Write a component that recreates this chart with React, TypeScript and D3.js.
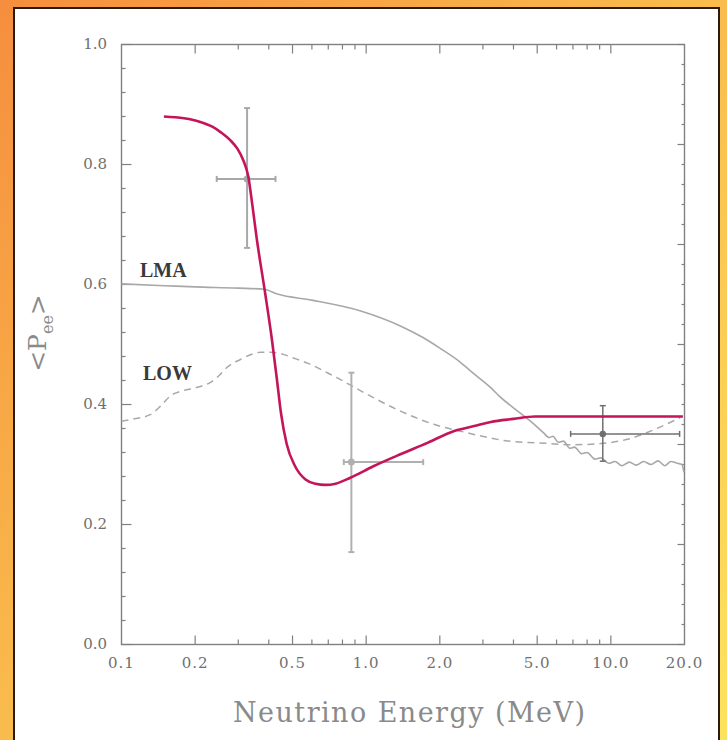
import React from "react";
import * as d3 from "d3";

const W = 727;
const H = 740;

const xTickValues = [0.1, 0.2, 0.5, 1, 2, 5, 10, 20];
const xTickLabels = ["0.1", "0.2", "0.5", "1.0", "2.0", "5.0", "10.0", "20.0"];
const xMinorTicks = [0.3, 0.4, 0.6, 0.7, 0.8, 0.9, 3, 4, 6, 7, 8, 9];
const yTickValues = [0, 0.2, 0.4, 0.6, 0.8, 1.0];
const yTickLabels = ["0.0", "0.2", "0.4", "0.6", "0.8", "1.0"];

// Magenta curve (best fit)
const fitE = [0.149, 0.18, 0.21, 0.235, 0.254, 0.2776, 0.298, 0.3146, 0.3297, 0.343, 0.3568, 0.3858, 0.4121, 0.432, 0.4485, 0.4733, 0.5117, 0.565, 0.621, 0.68, 0.75, 0.862, 1.07, 1.38, 1.78, 2.29, 2.76, 3.23, 4.0, 4.9, 10, 19.7];
const fitP = [0.880, 0.877, 0.871, 0.863, 0.854, 0.841, 0.826, 0.807, 0.780, 0.731, 0.6775, 0.5875, 0.5075, 0.4408, 0.3858, 0.3342, 0.2975, 0.275, 0.268, 0.266, 0.268, 0.278, 0.297, 0.317, 0.336, 0.356, 0.364, 0.371, 0.376, 0.380, 0.380, 0.380];

// LMA (solid gray)
const lmaE = [0.1, 0.15, 0.2, 0.3, 0.383, 0.433, 0.6, 0.95, 1.38, 1.7, 2.0, 2.4, 2.76, 3.23, 3.5, 4.25, 4.8, 5.3, 5.6, 5.8, 6.1, 6.4, 6.8, 7.1, 7.6, 8.0, 8.6, 9.1, 9.8, 10.4, 11.1, 11.9, 12.7, 13.6, 14.6, 15.6, 16.6, 17.6, 18.7, 19.5, 19.9];
const lmaP = [0.601, 0.598, 0.596, 0.594, 0.592, 0.584, 0.574, 0.556, 0.531, 0.512, 0.494, 0.472, 0.451, 0.428, 0.414, 0.386, 0.369, 0.353, 0.345, 0.347, 0.337, 0.339, 0.327, 0.329, 0.318, 0.320, 0.309, 0.311, 0.302, 0.305, 0.298, 0.304, 0.299, 0.305, 0.300, 0.306, 0.298, 0.305, 0.302, 0.300, 0.287];

// LOW (dashed gray)
const lowE = [0.1, 0.109, 0.131, 0.145, 0.159, 0.175, 0.191, 0.21, 0.231, 0.25, 0.27, 0.306, 0.337, 0.37, 0.41, 0.447, 0.5, 0.575, 0.74, 1.01, 1.38, 1.89, 2.58, 3.23, 3.8, 5.1, 7.0, 9.1, 11.7, 15, 19.2];
const lowP = [0.372, 0.375, 0.383, 0.398, 0.415, 0.422, 0.426, 0.430, 0.437, 0.448, 0.462, 0.475, 0.483, 0.487, 0.487, 0.485, 0.478, 0.469, 0.447, 0.417, 0.389, 0.367, 0.353, 0.344, 0.339, 0.336, 0.333, 0.335, 0.342, 0.358, 0.378];

// Data points with error bars
const ptE = [0.326, 0.87, 9.27];
const ptP = [0.776, 0.304, 0.351];
const ptELo = [0.245, 0.81, 6.85];
const ptEHi = [0.426, 1.71, 19.1];
const ptPLo = [0.661, 0.154, 0.3055];
const ptPHi = [0.894, 0.453, 0.398];

const x = d3.scaleLog().domain([0.1, 20]).range([121.5, 684.5]);
const y = d3.scaleLinear().domain([0, 1]).range([644.5, 44.5]);
const yRight = d3.scaleLinear().domain([0, 30]).range([644.5, 44.5]);

const line = d3
  .line<[number, number]>()
  .x((d) => x(d[0]))
  .y((d) => y(d[1]))
  .curve(d3.curveMonotoneX);

const zip = (a: number[], b: number[]) => a.map((v, i) => [v, b[i]] as [number, number]);

export default function App() {
  const left = x.range()[0];
  const right = x.range()[1];
  const top = y.range()[1];
  const bottom = y.range()[0];
  const axisColor = "#808080";
  const yMinor = d3.range(0, 26).map((i) => i * 0.04);
  const rightTicks = d3.range(0, 31);
  const barColors = ["#a8a8a8", "#b0b0b0", "#707070"];
  const serif = "'DejaVu Serif', serif";

  return (
    <svg
      width={W}
      height={H}
      style={{ position: "absolute", left: 0, top: 0, display: "block" }}
    >
      <defs>
        <linearGradient id="bg" x1="0" y1="0" x2="1" y2="1">
          <stop offset="0" stopColor="#f58e3e" />
          <stop offset="0.45" stopColor="#f9b84b" />
          <stop offset="1" stopColor="#fde35c" />
        </linearGradient>
      </defs>
      <rect x={0} y={0} width={W} height={H} fill="url(#bg)" />
      <rect x={14} y={8} width={705} height={H} fill="#ffffff" stroke="#2a1a10" strokeWidth={2} />

      {/* frame */}
      <rect x={left} y={top} width={right - left} height={bottom - top} fill="none" stroke={axisColor} strokeWidth={1.4} />

      {/* x ticks bottom & top */}
      {xTickValues.slice(1, -1).map((v) => (
        <g key={"xt" + v}>
          <line x1={x(v)} x2={x(v)} y1={bottom} y2={bottom - 9} stroke={axisColor} strokeWidth={1.2} />
          <line x1={x(v)} x2={x(v)} y1={top} y2={top + 9} stroke={axisColor} strokeWidth={1.2} />
        </g>
      ))}
      {xMinorTicks.map((v) => (
        <g key={"xm" + v}>
          <line x1={x(v)} x2={x(v)} y1={bottom} y2={bottom - 5} stroke={axisColor} strokeWidth={1.2} />
          <line x1={x(v)} x2={x(v)} y1={top} y2={top + 5} stroke={axisColor} strokeWidth={1.2} />
        </g>
      ))}
      {/* left y ticks */}
      {yMinor.map((v, i) => (
        <line key={"ym" + i} x1={left} x2={left + (i % 5 === 0 ? 10 : 4)} y1={y(v)} y2={y(v)} stroke={axisColor} strokeWidth={1.2} />
      ))}
      {/* right ticks */}
      {rightTicks.map((v) => (
        <line key={"yr" + v} x1={right} x2={right - (v % 5 === 0 ? 7 : 3)} y1={yRight(v)} y2={yRight(v)} stroke={axisColor} strokeWidth={1.2} />
      ))}

      {/* tick labels */}
      {yTickValues.map((v, i) => (
        <text key={"yl" + v} x={107} y={y(v) + 4} textAnchor="end" fontFamily={serif} fontSize={15} fill="#707070">
          {yTickLabels[i]}
        </text>
      ))}
      {xTickValues.map((v, i) => (
        <text key={"xl" + v} x={x(v)} y={668} textAnchor="middle" fontFamily={serif} fontSize={15} letterSpacing={1} fill="#707070">
          {xTickLabels[i]}
        </text>
      ))}

      {/* axis titles */}
      <text x={409} y={722} textAnchor="middle" fontFamily={serif} fontSize={27} fill="#8a8a8a" textLength={352} lengthAdjust="spacing">
        Neutrino Energy (MeV)
      </text>
      <text transform="translate(46,333) rotate(-90)" textAnchor="middle" fontFamily={serif} fontSize={25} fill="#8a8a8a">
        {"<P"}
        <tspan fontSize={16} dy={7}>ee</tspan>
        <tspan dy={-7}>{">"}</tspan>
      </text>

      {/* curves */}
      <path d={line(zip(lowE, lowP)) || ""} fill="none" stroke="#a8a8a8" strokeWidth={1.5} strokeDasharray="7,5" />
      <path d={line(zip(lmaE, lmaP)) || ""} fill="none" stroke="#a8a8a8" strokeWidth={1.6} />

      {/* error bars */}
      {ptE.map((e, i) => {
        const c = barColors[i];
        const cx = x(e);
        const cy = y(ptP[i]);
        return (
          <g key={"eb" + i} stroke={c} strokeWidth={i === 2 ? 1.5 : 2} fill="none">
            <line x1={cx} x2={cx} y1={y(ptPLo[i])} y2={y(ptPHi[i])} />
            <line x1={x(ptELo[i])} x2={x(ptEHi[i])} y1={cy} y2={cy} />
            <line x1={cx - 3} x2={cx + 3} y1={y(ptPLo[i])} y2={y(ptPLo[i])} />
            <line x1={cx - 3} x2={cx + 3} y1={y(ptPHi[i])} y2={y(ptPHi[i])} />
            <line x1={x(ptELo[i])} x2={x(ptELo[i])} y1={cy - 3} y2={cy + 3} />
            <line x1={x(ptEHi[i])} x2={x(ptEHi[i])} y1={cy - 3} y2={cy + 3} />
            <circle cx={cx} cy={cy} r={2.5} fill={c} />
          </g>
        );
      })}

      <path d={line(zip(fitE, fitP)) || ""} fill="none" stroke="#c4155a" strokeWidth={2.6} strokeLinejoin="round" />

      {/* labels */}
      <text x={140} y={277} fontFamily="'Liberation Serif', serif" fontWeight="bold" fontSize={20} fill="#3a3a3a">
        LMA
      </text>
      <text x={143} y={380} fontFamily="'Liberation Serif', serif" fontWeight="bold" fontSize={20} fill="#3a3a3a">
        LOW
      </text>
    </svg>
  );
}
